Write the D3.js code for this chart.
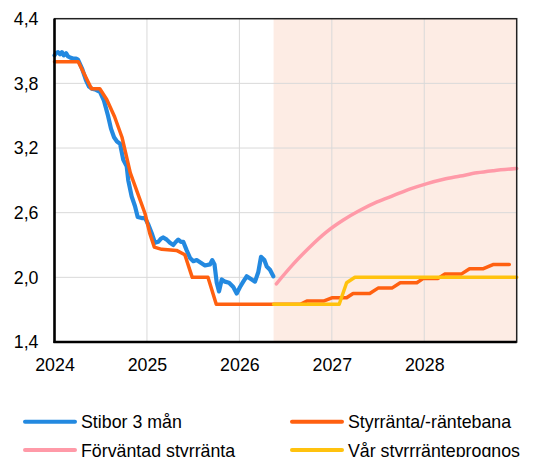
<!DOCTYPE html>
<html>
<head>
<meta charset="utf-8">
<script src="https://cdn.jsdelivr.net/npm/d3@7"></script>
<style>
  html, body { margin: 0; padding: 0; background: #fff; }
  svg { display: block; font-family: "Liberation Sans", Arial, sans-serif; }
</style>
</head>
<body>
<svg id="chart" width="540" height="457"></svg>
<script>
var width = 540,
    height = 457,
    fontSize = 17.8,
    margin = {top: 18.7, right: 23.3, bottom: 115, left: 54.5};

// Stibor 3 mån (year fraction, %)
var stiborYears = [2024.00, 2024.016, 2024.038, 2024.06, 2024.08, 2024.10, 2024.125, 2024.146, 2024.168, 2024.20,
  2024.233, 2024.254, 2024.297, 2024.34, 2024.373, 2024.406, 2024.449, 2024.492, 2024.535, 2024.579,
  2024.611, 2024.644, 2024.676, 2024.709, 2024.744, 2024.781, 2024.798, 2024.835, 2024.871, 2024.90,
  2024.943, 2024.979, 2025.015, 2025.052, 2025.087, 2025.123, 2025.152, 2025.177, 2025.214, 2025.249,
  2025.285, 2025.314, 2025.339, 2025.368, 2025.393, 2025.43, 2025.466, 2025.502, 2025.538, 2025.574,
  2025.628, 2025.682, 2025.707, 2025.731, 2025.755, 2025.78, 2025.809, 2025.844, 2025.888, 2025.934,
  2025.971, 2026.007, 2026.042, 2026.079, 2026.133, 2026.169, 2026.205, 2026.234, 2026.27, 2026.296,
  2026.331, 2026.367];
var stiborValues = [4.06, 4.08, 4.09, 4.07, 4.09, 4.06, 4.08, 4.05, 4.04, 4.03,
  4.03, 4.02, 3.94, 3.83, 3.77, 3.75, 3.74, 3.72, 3.64, 3.50,
  3.38, 3.30, 3.26, 3.24, 3.09, 3.03, 2.90, 2.75, 2.66, 2.56,
  2.55, 2.55, 2.49, 2.41, 2.32, 2.33, 2.36, 2.37, 2.35, 2.32,
  2.30, 2.33, 2.35, 2.33, 2.33, 2.25, 2.18, 2.15, 2.16, 2.14,
  2.11, 2.12, 2.16, 2.12, 1.95, 1.87, 1.98, 1.96, 1.95, 1.91,
  1.85, 1.91, 1.96, 2.01, 1.98, 1.96, 2.05, 2.19, 2.16, 2.10,
  2.07, 2.01];

// Styrränta/-räntebana
var policyYears = [2024.00, 2024.257, 2024.40, 2024.49, 2024.565, 2024.65, 2024.73, 2024.82, 2024.98, 2025.03,
  2025.08, 2025.16, 2025.32, 2025.41, 2025.49, 2025.66, 2025.75, 2026.37, 2026.66, 2026.73,
  2026.91, 2027.00, 2027.16, 2027.23, 2027.41, 2027.50, 2027.65, 2027.74, 2027.92, 2027.99,
  2028.15, 2028.22, 2028.40, 2028.49, 2028.64, 2028.75, 2028.92];
var policyValues = [4.00, 4.00, 3.75, 3.75, 3.65, 3.49, 3.30, 2.97, 2.59, 2.41,
  2.28, 2.26, 2.25, 2.21, 2.00, 2.00, 1.75, 1.75, 1.75, 1.78,
  1.78, 1.81, 1.81, 1.85, 1.85, 1.90, 1.90, 1.95, 1.95, 1.99,
  1.99, 2.03, 2.03, 2.08, 2.08, 2.12, 2.12];

// Förväntad styrränta
var expectedYears = [2026.40, 2026.58, 2026.76, 2026.94, 2027.12, 2027.30, 2027.49, 2027.67, 2027.85, 2028.03,
  2028.21, 2028.39, 2028.57, 2028.75, 2029.00];
var expectedValues = [1.94, 2.12, 2.28, 2.42, 2.53, 2.62, 2.70, 2.76, 2.82, 2.87,
  2.91, 2.94, 2.97, 2.99, 3.01];

// Vår styrränteprognos
var ourYears = [2026.37, 2027.08, 2027.16, 2027.25, 2029.00];
var ourValues = [1.75, 1.75, 1.95, 2.00, 2.00];

var forecastStart = 2026.37;
var yearTicks = [2024, 2025, 2026, 2027, 2028];
var rateTicks = [1.4, 2.0, 2.6, 3.2, 3.8, 4.4];

var seriesNames = ["Stibor 3 mån", "Styrränta/-räntebana", "Förväntad styrränta", "Vår styrrränteprognos"];
var seriesColors = ["#2389e0", "#ff6010", "#ff9aa8", "#ffc20e"];

var svg = d3.select("#chart");

var x = d3.scaleLinear().domain([2024, 2029]).range([margin.left, width - margin.right]);
var y = d3.scaleLinear().domain([1.4, 4.4]).range([height - margin.bottom, margin.top]);

// forecast shading
svg.append("rect")
    .attr("x", x(forecastStart))
    .attr("y", y(4.4))
    .attr("width", x(2029) - x(forecastStart))
    .attr("height", y(1.4) - y(4.4))
    .attr("fill", "#fdece4");

// grid
svg.append("g")
  .selectAll("line")
    .data(rateTicks.slice(1, -1))
  .enter().append("line")
    .attr("x1", x(2024)).attr("x2", x(2029))
    .attr("y1", function(d) { return y(d); }).attr("y2", function(d) { return y(d); })
    .attr("stroke", "#d9d9d9").attr("stroke-width", 1);

svg.append("g")
  .selectAll("line")
    .data(yearTicks.slice(1))
  .enter().append("line")
    .attr("x1", function(d) { return x(d); }).attr("x2", function(d) { return x(d); })
    .attr("y1", y(4.4)).attr("y2", y(1.4))
    .attr("stroke", "#d9d9d9").attr("stroke-width", 1);

// axes
var yAxis = d3.axisLeft(y)
    .tickValues(rateTicks)
    .tickSize(0)
    .tickPadding(16)
    .tickFormat(function(d) { return d3.format(".1f")(d).replace(".", ","); });

var xAxis = d3.axisBottom(x)
    .tickValues(yearTicks)
    .tickSize(0)
    .tickPadding(16)
    .tickFormat(d3.format("d"));

svg.append("g")
    .attr("transform", "translate(" + margin.left + ",0)")
    .call(yAxis)
    .call(function(g) { g.select(".domain").remove(); })
    .selectAll("text").attr("font-size", fontSize).attr("fill", "#000").attr("font-family", "Liberation Sans, Arial, sans-serif");

svg.append("g")
    .attr("transform", "translate(0," + (height - margin.bottom) + ")")
    .call(xAxis)
    .call(function(g) { g.select(".domain").remove(); })
    .selectAll("text").attr("font-size", fontSize).attr("fill", "#000").attr("font-family", "Liberation Sans, Arial, sans-serif");

// lines
var line = d3.line()
    .x(function(d) { return x(d[0]); })
    .y(function(d) { return y(d[1]); });

function pairs(xs, ys) { return xs.map(function(d, i) { return [d, ys[i]]; }); }

var series = [
  pairs(stiborYears, stiborValues),
  pairs(policyYears, policyValues),
  pairs(expectedYears, expectedValues),
  pairs(ourYears, ourValues)
];

svg.append("g")
  .selectAll("path")
    .data(series)
  .enter().append("path")
    .attr("d", function(d, i) { return i === 2 ? line.curve(d3.curveMonotoneX)(d) : line.curve(d3.curveLinear)(d); })
    .attr("fill", "none")
    .attr("stroke", function(d, i) { return seriesColors[i]; })
    .attr("stroke-width", function(d, i) { return i === 0 ? 4.2 : 3.5; })
    .attr("stroke-linejoin", "round")
    .attr("stroke-linecap", "round");

// frame
svg.append("rect")
    .attr("x", x(2024)).attr("y", y(4.4))
    .attr("width", x(2029) - x(2024)).attr("height", y(1.4) - y(4.4))
    .attr("fill", "none").attr("stroke", "#222").attr("stroke-width", 1.5);
svg.append("line")
    .attr("x1", x(2024)).attr("x2", x(2024)).attr("y1", y(4.4)).attr("y2", y(1.4) + 1)
    .attr("stroke", "#000").attr("stroke-width", 2.5);
svg.append("line")
    .attr("x1", x(2024) - 1).attr("x2", x(2029)).attr("y1", y(1.4)).attr("y2", y(1.4))
    .attr("stroke", "#000").attr("stroke-width", 2.5);

// legend
var legend = svg.append("g")
  .selectAll("g")
    .data(seriesNames)
  .enter().append("g")
    .attr("transform", function(d, i) { return "translate(" + (i % 2 ? 292 : 25) + "," + (i < 2 ? 421.7 : 450) + ")"; });

legend.append("line")
    .attr("x1", 0).attr("x2", 50)
    .attr("stroke", function(d, i) { return seriesColors[i]; })
    .attr("stroke-width", 4)
    .attr("stroke-linecap", "round");

legend.append("text")
    .attr("x", 56).attr("y", 6.5)
    .attr("font-size", fontSize)
    .text(function(d) { return d; });
</script>
</body>
</html>
